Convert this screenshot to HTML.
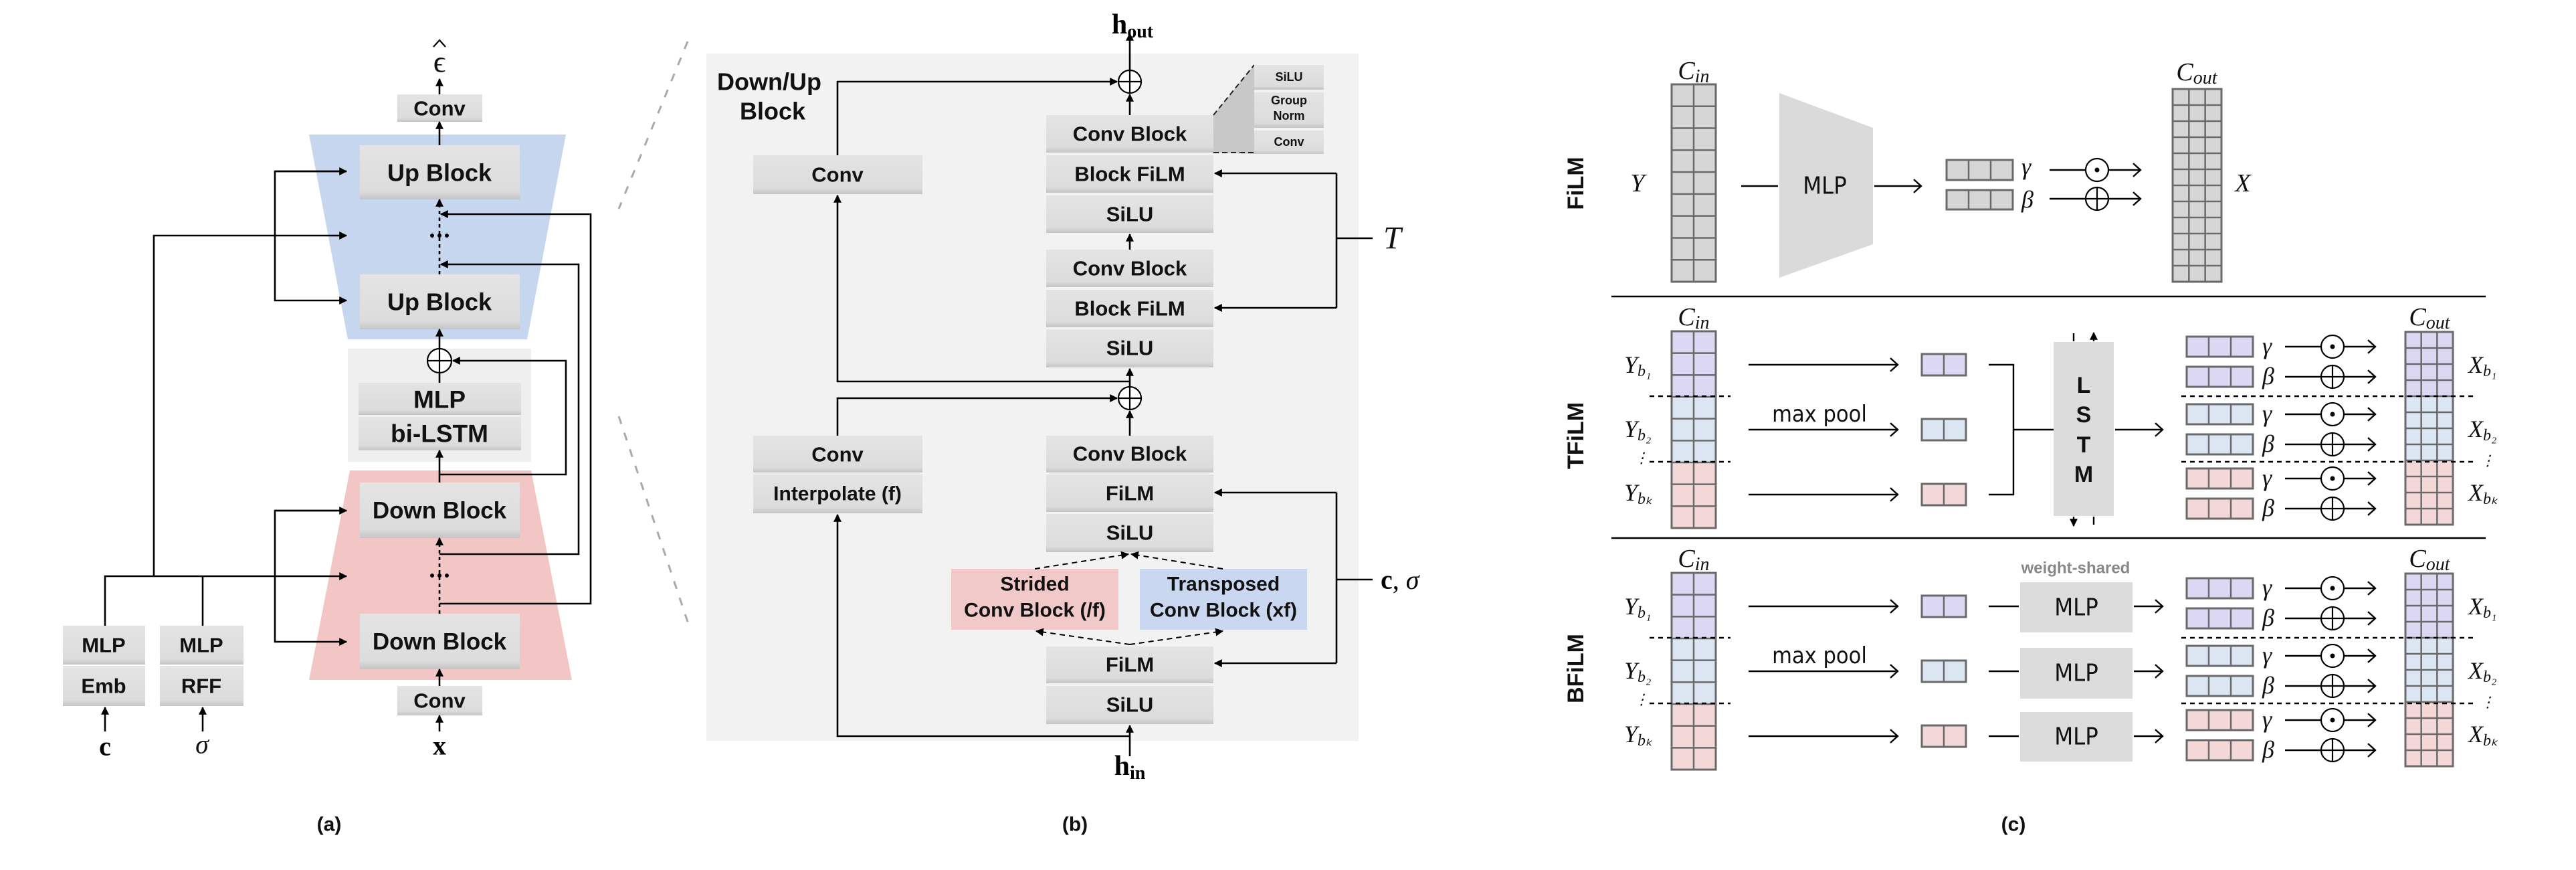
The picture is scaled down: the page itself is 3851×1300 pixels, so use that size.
<!DOCTYPE html>
<html><head><meta charset="utf-8"><style>
html,body{margin:0;padding:0;background:#fff;}
svg{display:block;}
.bx{font-family:"Liberation Sans",sans-serif;font-weight:bold;fill:#111;text-anchor:middle;dominant-baseline:central;}
.m{font-family:"Liberation Serif",serif;font-style:italic;fill:#111;dominant-baseline:central;}
.l{stroke:#000;stroke-width:2.6;fill:none;}
</style></head><body>
<svg id="s" width="3851" height="1300" viewBox="0 0 3851 1300" xmlns="http://www.w3.org/2000/svg">
<defs>
<marker id="a" viewBox="0 0 10 10" refX="9" refY="5" markerWidth="12" markerHeight="12" markerUnits="userSpaceOnUse" orient="auto"><path d="M0,0 L10,5 L0,10 z" fill="#000"/></marker>
<marker id="o" viewBox="0 0 12 20" refX="11" refY="10" markerWidth="14" markerHeight="22" markerUnits="userSpaceOnUse" orient="auto"><path d="M1,1 L11,10 L1,19" fill="none" stroke="#000" stroke-width="2.2"/></marker>
<linearGradient id="gb" x1="0" y1="0" x2="0" y2="1"><stop offset="0" stop-color="#e4e4e4"/><stop offset="0.85" stop-color="#dcdcdc"/><stop offset="1" stop-color="#c4c4c4"/></linearGradient>
</defs>

<!-- ============ PANEL A ============ -->
<polygon points="462,201 846,201 788,507 520,507" fill="#c6d6ee"/>
<rect x="520" y="521" width="274" height="169" fill="#efefef"/>
<polygon points="523,703 794,703 855,1016 462,1016" fill="#f3c6c6"/>
<g id="boxesA"></g>
<text class="bx" x="657" y="162" font-size="31">Conv</text>
<text class="bx" x="657" y="258" font-size="36">Up Block</text>
<text class="bx" x="657" y="451" font-size="36">Up Block</text>
<text class="bx" x="657" y="597" font-size="37">MLP</text>
<text class="bx" x="657" y="648" font-size="37">bi-LSTM</text>
<text class="bx" x="657" y="763" font-size="35">Down Block</text>
<text class="bx" x="657" y="959" font-size="35">Down Block</text>
<text class="bx" x="657" y="1047" font-size="31">Conv</text>
<text class="bx" x="155" y="964" font-size="31">MLP</text>
<text class="bx" x="155" y="1025" font-size="31">Emb</text>
<text class="bx" x="301" y="964" font-size="31">MLP</text>
<text class="bx" x="301" y="1025" font-size="31">RFF</text>
<text class="m" x="657" y="92" font-size="46" text-anchor="middle" style="font-style:normal">ϵ</text>
<path d="M648,70 L657,60 L666,70" stroke="#000" stroke-width="2.2" fill="none"/>
<text x="157" y="1115" font-size="40" text-anchor="middle" font-family="Liberation Serif,serif" font-weight="bold" dominant-baseline="central">c</text>
<text class="m" x="302" y="1112" font-size="40" text-anchor="middle">σ</text>
<text x="657" y="1114" font-size="40" text-anchor="middle" font-family="Liberation Serif,serif" font-weight="bold" dominant-baseline="central">x</text>
<text class="bx" x="492" y="1232" font-size="30">(a)</text>
<!-- lines A -->
<path class="l" d="M657,141 V118" marker-end="url(#a)"/>
<path class="l" d="M657,217 V182" marker-end="url(#a)"/>
<path class="l" d="M657,410 V298" stroke-dasharray="5,5" marker-end="url(#a)"/>
<circle cx="657" cy="352" r="3" fill="#000"/><circle cx="646" cy="352" r="3" fill="#000"/><circle cx="668" cy="352" r="3" fill="#000"/>
<path class="l" d="M657,521 V492" marker-end="url(#a)"/>
<path class="l" d="M657,557 V572"/>
<path class="l" d="M657,721 V673" marker-end="url(#a)"/>
<path class="l" d="M657,709 H846 V539 H677" marker-end="url(#a)"/>
<path class="l" d="M657,917 V804" stroke-dasharray="5,5" marker-end="url(#a)"/>
<circle cx="657" cy="860" r="3" fill="#000"/><circle cx="646" cy="860" r="3" fill="#000"/><circle cx="668" cy="860" r="3" fill="#000"/>
<path class="l" d="M657,1025 V1000" marker-end="url(#a)"/>
<path class="l" d="M657,1093 V1069" marker-end="url(#a)"/>
<path class="l" d="M657,902 H883 V320 H659" marker-end="url(#a)"/>
<path class="l" d="M657,828 H865 V395 H659" marker-end="url(#a)"/>
<path class="l" d="M157,935 V861 H518" marker-end="url(#a)"/>
<path class="l" d="M303,935 V861"/>
<path class="l" d="M230,861 V352 H518" marker-end="url(#a)"/>
<path class="l" d="M518,256 H411 V449 H518" marker-end="url(#a)"/>
<path class="l" d="M411,256 H518" marker-end="url(#a)"/>
<path class="l" d="M518,763 H411 V959 H518" marker-end="url(#a)"/>
<path class="l" d="M411,763 H518" marker-end="url(#a)"/>
<path class="l" d="M157,1093 V1057" marker-end="url(#a)"/>
<path class="l" d="M303,1093 V1057" marker-end="url(#a)"/>
<g id="opA"></g>
<!-- dashed connectors -->
<path d="M1028,62 L925,312" stroke="#aaa" stroke-width="3" stroke-dasharray="12,14" fill="none"/>
<path d="M925,622 L1030,935" stroke="#aaa" stroke-width="3" stroke-dasharray="12,14" fill="none"/>

<!-- ============ PANEL B ============ -->
<rect x="1056" y="80" width="975" height="1027" fill="#f2f2f2"/>
<g id="boxesB"></g>
<polygon points="1814,172 1875,97 1875,230 1814,228" fill="#c8c8c8"/>
<path d="M1814,172 L1875,97" stroke="#222" stroke-width="2" stroke-dasharray="8,5"/>
<path d="M1814,228 H1875" stroke="#222" stroke-width="2" stroke-dasharray="8,5"/>
<g id="boxesB2"></g>
<text class="bx" x="1150" y="122" font-size="36">Down/Up</text>
<text class="bx" x="1155" y="166" font-size="36">Block</text>
<text class="bx" x="1252" y="261" font-size="31">Conv</text>
<text class="bx" x="1252" y="679" font-size="31">Conv</text>
<text class="bx" x="1252" y="738" font-size="30">Interpolate (f)</text>
<text class="bx" x="1689" y="200" font-size="31">Conv Block</text>
<text class="bx" x="1689" y="260" font-size="31">Block FiLM</text>
<text class="bx" x="1689" y="320" font-size="31">SiLU</text>
<text class="bx" x="1689" y="401" font-size="31">Conv Block</text>
<text class="bx" x="1689" y="461" font-size="31">Block FiLM</text>
<text class="bx" x="1689" y="520" font-size="31">SiLU</text>
<text class="bx" x="1689" y="678" font-size="31">Conv Block</text>
<text class="bx" x="1689" y="737" font-size="31">FiLM</text>
<text class="bx" x="1689" y="796" font-size="31">SiLU</text>
<text class="bx" x="1689" y="993" font-size="31">FiLM</text>
<text class="bx" x="1689" y="1053" font-size="31">SiLU</text>
<text class="bx" x="1547" y="873" font-size="30">Strided</text>
<text class="bx" x="1547" y="912" font-size="30">Conv Block (/f)</text>
<text class="bx" x="1829" y="873" font-size="30">Transposed</text>
<text class="bx" x="1829" y="912" font-size="30">Conv Block (xf)</text>
<text class="bx" x="1927" y="115" font-size="18">SiLU</text>
<text class="bx" x="1927" y="150" font-size="18">Group</text>
<text class="bx" x="1927" y="173" font-size="18">Norm</text>
<text class="bx" x="1927" y="212" font-size="18">Conv</text>
<text x="1693" y="37" font-size="42" text-anchor="middle" font-family="Liberation Serif,serif" font-weight="bold" dominant-baseline="central">h<tspan font-size="28" dy="10">out</tspan></text>
<text x="1689" y="1145" font-size="42" text-anchor="middle" font-family="Liberation Serif,serif" font-weight="bold" dominant-baseline="central">h<tspan font-size="28" dy="10">in</tspan></text>
<text class="m" x="2068" y="356" font-size="48">T</text>
<text x="2064" y="866" font-size="40" font-family="Liberation Serif,serif" font-weight="bold" dominant-baseline="central">c<tspan font-weight="normal">, </tspan><tspan font-weight="normal" font-style="italic">σ</tspan></text>
<text class="bx" x="1607" y="1232" font-size="30">(b)</text>
<!-- lines B -->
<path class="l" d="M1689,105 V50" marker-end="url(#a)"/>
<path class="l" d="M1689,172 V141" marker-end="url(#a)"/>
<path class="l" d="M1252,232 V122 H1670" marker-end="url(#a)"/>
<path class="l" d="M1689,373 V350" marker-end="url(#a)"/>
<path class="l" d="M1689,578 V551" marker-end="url(#a)"/>
<path class="l" d="M1689,570 H1252 V292" marker-end="url(#a)"/>
<path class="l" d="M1252,651 V595 H1670" marker-end="url(#a)"/>
<path class="l" d="M1689,651 V614" marker-end="url(#a)"/>
<path class="l" d="M1689,1130 V1084" marker-end="url(#a)"/>
<path class="l" d="M1689,1100 H1252 V769" marker-end="url(#a)"/>
<path class="l" d="M1998,259 V460"/>
<path class="l" d="M1998,259 H1816" marker-end="url(#a)"/>
<path class="l" d="M1998,460 H1816" marker-end="url(#a)"/>
<path class="l" d="M1998,356 H2052"/>
<path class="l" d="M1998,736 V991"/>
<path class="l" d="M1998,736 H1816" marker-end="url(#a)"/>
<path class="l" d="M1998,991 H1816" marker-end="url(#a)"/>
<path class="l" d="M1998,866 H2052"/>
<path d="M1547,850 L1687,828" stroke="#000" stroke-width="2" stroke-dasharray="8,6" marker-end="url(#a)"/>
<path d="M1828,850 L1691,828" stroke="#000" stroke-width="2" stroke-dasharray="8,6" marker-end="url(#a)"/>
<path d="M1689,963 L1549,943" stroke="#000" stroke-width="2" stroke-dasharray="8,6" marker-end="url(#a)"/>
<path d="M1689,963 L1828,943" stroke="#000" stroke-width="2" stroke-dasharray="8,6" marker-end="url(#a)"/>
<g id="opB"></g>

<!-- ============ PANEL C ============ -->
<text class="bx" font-size="34" transform="translate(2356,274) rotate(-90)">FiLM</text>
<text class="bx" font-size="34" transform="translate(2356,651) rotate(-90)">TFiLM</text>
<text class="bx" font-size="34" transform="translate(2356,999) rotate(-90)">BFiLM</text>
<line x1="2409" y1="443" x2="3716" y2="443" stroke="#000" stroke-width="2.5"/>
<line x1="2409" y1="804" x2="3716" y2="804" stroke="#000" stroke-width="2.5"/>
<polygon points="2660,139 2800,191 2800,365 2660,415" fill="#dadada"/>
<text class="bx" x="2728" y="278" font-size="36" style="font-weight:normal;font-family:'DejaVu Sans Condensed','DejaVu Sans',sans-serif">MLP</text>
<g id="shC"></g>
<g id="txtC">
<text class="m" x="2532" y="106" font-size="38" text-anchor="middle">C<tspan font-size="28" dy="8">in</tspan></text>
<text class="m" x="3284" y="108" font-size="38" text-anchor="middle">C<tspan font-size="28" dy="8">out</tspan></text>
<text class="m" x="2448" y="274" font-size="38" text-anchor="middle">Y</text>
<text class="m" x="3353" y="274" font-size="38" text-anchor="middle">X</text>
<text class="m" x="3022" y="249" font-size="36">γ</text>
<text class="m" x="3022" y="298" font-size="36">β</text>

<text class="m" x="2532" y="474" font-size="38" text-anchor="middle">C<tspan font-size="28" dy="8">in</tspan></text>
<text class="m" x="3632" y="474" font-size="38" text-anchor="middle">C<tspan font-size="28" dy="8">out</tspan></text>
<text class="m" x="2428" y="545" font-size="36">Y<tspan font-size="24" dy="10">b₁</tspan></text>
<text class="m" x="2428" y="641" font-size="36">Y<tspan font-size="24" dy="10">b₂</tspan></text>
<text class="m" x="2443" y="684" font-size="22">⋮</text>
<text class="m" x="2428" y="736" font-size="36">Y<tspan font-size="24" dy="10">bₖ</tspan></text>
<text class="m" x="3690" y="545" font-size="36">X<tspan font-size="24" dy="10">b₁</tspan></text>
<text class="m" x="3690" y="641" font-size="36">X<tspan font-size="24" dy="10">b₂</tspan></text>
<text class="m" x="3708" y="688" font-size="22">⋮</text>
<text class="m" x="3690" y="736" font-size="36">X<tspan font-size="24" dy="10">bₖ</tspan></text>
<text class="bx" x="2720" y="619" font-size="34" style="font-weight:normal;font-family:'DejaVu Sans Condensed','DejaVu Sans',sans-serif">max pool</text>
<text class="bx" x="3115" y="576" font-size="34">L</text>
<text class="bx" x="3115" y="620" font-size="34">S</text>
<text class="bx" x="3115" y="665" font-size="34">T</text>
<text class="bx" x="3115" y="709" font-size="34">M</text>

<text class="m" x="2532" y="835" font-size="38" text-anchor="middle">C<tspan font-size="28" dy="8">in</tspan></text>
<text class="m" x="3632" y="835" font-size="38" text-anchor="middle">C<tspan font-size="28" dy="8">out</tspan></text>
<text class="m" x="2428" y="906" font-size="36">Y<tspan font-size="24" dy="10">b₁</tspan></text>
<text class="m" x="2428" y="1002" font-size="36">Y<tspan font-size="24" dy="10">b₂</tspan></text>
<text class="m" x="2443" y="1045" font-size="22">⋮</text>
<text class="m" x="2428" y="1097" font-size="36">Y<tspan font-size="24" dy="10">bₖ</tspan></text>
<text class="m" x="3690" y="906" font-size="36">X<tspan font-size="24" dy="10">b₁</tspan></text>
<text class="m" x="3690" y="1002" font-size="36">X<tspan font-size="24" dy="10">b₂</tspan></text>
<text class="m" x="3708" y="1049" font-size="22">⋮</text>
<text class="m" x="3690" y="1097" font-size="36">X<tspan font-size="24" dy="10">bₖ</tspan></text>
<text class="bx" x="2720" y="980" font-size="34" style="font-weight:normal;font-family:'DejaVu Sans Condensed','DejaVu Sans',sans-serif">max pool</text>
<text class="bx" x="3103" y="849" font-size="24" style="fill:#888">weight-shared</text>
<text class="bx" x="3104" y="908" font-size="36" style="font-weight:normal;font-family:'DejaVu Sans Condensed','DejaVu Sans',sans-serif">MLP</text>
<text class="bx" x="3104" y="1006" font-size="36" style="font-weight:normal;font-family:'DejaVu Sans Condensed','DejaVu Sans',sans-serif">MLP</text>
<text class="bx" x="3104" y="1101" font-size="36" style="font-weight:normal;font-family:'DejaVu Sans Condensed','DejaVu Sans',sans-serif">MLP</text>
<text class="bx" x="3010" y="1232" font-size="30">(c)</text>
</g>
</svg>
<script>
var NS="http://www.w3.org/2000/svg";
function el(p,t,a){var e=document.createElementNS(NS,t);for(var k in a)e.setAttribute(k,a[k]);document.getElementById(p).appendChild(e);return e;}
function box(p,x,y,w,h,f){el(p,"rect",{x:x,y:y,width:w,height:h,fill:f||"url(#gb)"});}
[[594,141,127,41],[538,217,239,81],[538,410,239,82],[536,572,243,48],[536,623,243,50],[538,721,239,83],[538,917,239,83],[594,1025,127,44],[94,935,123,58],[94,995,123,60],[239,935,125,58],[239,995,125,60]].forEach(function(b){box("boxesA",b[0],b[1],b[2],b[3]);});
[[1126,232,253,58],[1126,651,253,55],[1126,709,253,58],[1564,172,250,56],[1564,232,250,56],[1564,292,250,56],[1564,373,250,56],[1564,433,250,56],[1564,492,250,57],[1564,651,250,55],[1564,709,250,56],[1564,768,250,57],[1564,966,250,55],[1564,1025,250,57]].forEach(function(b){box("boxesB",b[0],b[1],b[2],b[3]);});
[[1875,97,104,37],[1875,138,104,53],[1875,195,104,35]].forEach(function(b){box("boxesB2",b[0],b[1],b[2],b[3]);});
box("boxesB",1422,850,250,91,"#f2c9c9");box("boxesB",1704,850,250,91,"#c9d8f0");
function oplus(p,cx,cy,r){el(p,"circle",{cx:cx,cy:cy,r:r,fill:"#fff",stroke:"#000","stroke-width":2.2});el(p,"path",{d:"M"+(cx-r)+","+cy+"H"+(cx+r)+"M"+cx+","+(cy-r)+"V"+(cy+r),stroke:"#000","stroke-width":2.2});}
function odot(p,cx,cy,r){el(p,"circle",{cx:cx,cy:cy,r:r,fill:"#fff",stroke:"#000","stroke-width":2.2});el(p,"circle",{cx:cx,cy:cy,r:3.5,fill:"#000"});}
oplus("opA",657,539,18);oplus("opB",1689,122,17);oplus("opB",1689,595,17);
var P="#dcd8f4",B="#dbe6f2",R="#f4d8d8",G="#d6d6d6";
function mat(x,y,w,h,cols,colors){var rows=colors.length,rh=h/rows,cw=w/cols;
 for(var i=0;i<rows;i++)el("shC","rect",{x:x,y:y+i*rh,width:w,height:rh,fill:colors[i]});
 for(var i=1;i<rows;i++)el("shC","line",{x1:x,x2:x+w,y1:y+i*rh,y2:y+i*rh,stroke:"#6a6a6a","stroke-width":2.5});
 for(var j=1;j<cols;j++)el("shC","line",{x1:x+j*cw,x2:x+j*cw,y1:y,y2:y+h,stroke:"#6a6a6a","stroke-width":2.5});
 el("shC","rect",{x:x,y:y,width:w,height:h,fill:"none",stroke:"#6a6a6a","stroke-width":3});}
function rep(c,n){var a=[];for(var i=0;i<n;i++)a.push(c);return a;}
function line(d,m){el("shC","path",{d:d,stroke:"#000","stroke-width":2.4,fill:"none","marker-end":m?"url(#"+m+")":""});}
function dline(x1,x2,y){el("shC","line",{x1:x1,x2:x2,y1:y,y2:y,stroke:"#000","stroke-width":2.6,"stroke-dasharray":"7,6"});}
mat(2499,126,66,295,2,rep(G,9));
mat(3248,133,73,288,3,rep(G,12));
line("M2603,278 H2658");line("M2802,278 H2872","o");
mat(2910,239,99,30,3,[G]);mat(2910,284,99,29,3,[G]);
line("M3064,254 H3200","o");line("M3064,297 H3200","o");odot("shC",3135,254,17);oplus("shC",3135,297,17);
function section(dy,lstm){
 mat(2499,495+dy,66,294,2,[P,P,P,B,B,B,R,R,R]);
 mat(3596,496+dy,71,288,3,[P,P,P,P,B,B,B,B,R,R,R,R]);
 dline(2466,2587,592+dy);dline(2466,2587,690+dy);dline(3261,3697,592+dy);dline(3261,3697,690+dy);
 var ys=[545,642,739],cs=[P,B,R];
 for(var i=0;i<3;i++){var y=ys[i]+dy;line("M2614,"+y+" H2837","o");mat(2873,y-16,66,32,2,[cs[i]]);
  if(!lstm){line("M2973,"+y+" H3018");el("shC","rect",{x:3020,y:[870,968,1064][i],width:168,height:[75,76,74][i],fill:"#dcdcdc"});line("M3190,"+y+" H3233","o");}}
 if(lstm){line("M2973,545 H3010 V739 H2973");line("M3010,642 H3070");el("shC","rect",{x:3070,y:511,width:90,height:260,fill:"#dcdcdc"});line("M3162,642 H3233","o");
  line("M3100,510 V498");line("M3130,510 V497","a");line("M3100,772 V786","a");line("M3130,772 V784");}
 var gy=[503,548,604,649,700,745],gc=[P,P,B,B,R,R];
 for(var i=0;i<6;i++){var y=gy[i]+dy;mat(3269,y,99,30,3,[gc[i]]);
  el("shC","text",{x:3382,y:y+14,"font-size":36,"class":"m"}).textContent=(i%2?"β":"γ");
  line("M3416,"+(y+15)+" H3551","o");if(i%2)oplus("shC",3487,y+15,17);else odot("shC",3487,y+15,17);}
}
section(0,true);section(361,false);
</script>
</body></html>
